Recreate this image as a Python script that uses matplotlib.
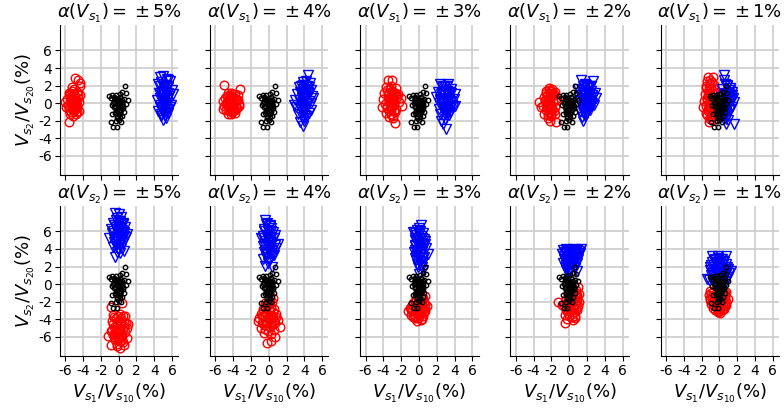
import matplotlib
matplotlib.use("Agg")
import matplotlib.pyplot as plt

plt.rcParams['axes.unicode_minus'] = False

levels = [5, 4, 3, 2, 1]

# nominal case, same in every panel
black_x = [-1.1, -0.9, -0.7, -0.5, -0.3, 0.1, 0.4, 0.7, 0.8, 1.0, 0.6, 0.3, 0.0, -0.4, -0.6, -0.2, 0.2, 0.5, -0.5, -0.1,
           0.3, -0.3, 0.1, 0.4, -0.2, 0.0, -0.9, -0.6, -0.2, 0.3, -0.7, 0.6, -0.8, 0.8, 0.0, -0.4, 0.2, 0.1, -0.1, 0.4,
           -0.4, -0.1, 0.2, -0.5, -0.2, 0.1, 0.4, -0.4, -0.1, 0.2, 0.5, -0.3, 0.0, 0.3, -0.4, -0.1, 0.2, -0.2, 0.1, -0.3]
black_y = [0.8, 0.6, 0.9, 0.7, 0.9, 1.0, 1.3, 2.0, 1.1, 0.4, 0.5, 0.2, 0.4, 0.3, 0.0, -0.1, -0.2, -0.3, -0.5, -0.6,
           -0.8, -1.0, -1.2, -1.5, -1.5, -1.9, -2.2, -2.7, -2.7, -2.1, -1.3, -1.0, -0.2, -0.1, 0.0, 0.5, 0.7, -0.4, 0.2, -0.1,
           0.6, 0.5, 0.4, 0.1, 0.2, 0.1, 0.3, -0.3, -0.4, -0.4, -0.6, -0.8, -0.9, -0.6, -1.1, -1.3, -1.0, -1.7, -1.6, -2.0]

# top row: perturbation of V_s1
red_top_x = [
    [-5.6, -5.3, -5.0, -4.7, -4.4, -5.8, -5.5, -5.2, -4.9, -4.6, -5.7, -5.4, -5.1, -4.8, -4.5, -5.6, -5.3, -5.0, -4.7, -5.9,
     -5.5, -5.1, -4.8, -4.3, -4.6, -4.4, -4.9, -5.2, -6.0, -5.6, -4.5, -5.0,
     -5.5, -5.2, -4.9, -4.6, -5.4, -5.1, -4.8, -5.6, -5.3, -5.0, -4.7, -5.5, -5.2, -4.9, -5.4, -5.1, -4.8, -5.3, -5.0, -4.7],
    [-5.0, -3.2, -4.6, -4.2, -3.8, -3.5, -4.9, -4.4, -4.0, -3.6, -5.2, -4.7, -4.3, -3.9, -3.4, -5.0, -4.5, -4.1, -3.7, -3.3,
     -4.8, -4.4, -4.0, -3.6, -4.6, -4.2, -3.8, -4.3, -5.1, -3.5,
     -4.7, -4.4, -4.1, -3.8, -4.6, -4.3, -4.0, -3.7, -4.8, -4.5, -4.2, -3.9, -4.6, -4.3, -4.0, -4.4, -4.1, -3.8, -4.5, -4.2],
    [-3.5, -3.0, -3.7, -3.2, -2.6, -3.9, -3.4, -2.9, -2.4, -4.0, -3.5, -3.0, -2.5, -2.0, -3.8, -3.3, -2.8, -2.3, -4.2, -3.6,
     -3.1, -2.6, -3.7, -3.2, -2.7, -3.4, -2.9, -2.7, -1.9, -3.0,
     -3.6, -3.3, -3.0, -2.7, -3.5, -3.2, -2.9, -2.6, -3.4, -3.1, -2.8, -3.6, -3.3, -3.0, -3.4, -3.1, -2.8, -3.2, -2.9, -3.0],
    [-2.3, -1.9, -2.6, -2.1, -1.6, -2.8, -2.4, -1.9, -1.5, -3.4, -2.7, -2.2, -1.8, -1.4, -2.9, -2.5, -2.0, -1.6, -2.6, -2.2,
     -1.7, -2.4, -2.0, -1.6, -2.8, -1.5, -2.1, -3.2, -1.8, -2.5,
     -2.6, -2.3, -2.0, -1.7, -2.5, -2.2, -1.9, -2.7, -2.4, -2.1, -1.8, -2.6, -2.3, -2.0, -2.5, -2.2, -1.9, -2.3, -2.0, -2.4],
    [-1.3, -0.7, -1.0, -1.5, -0.6, -1.2, -0.8, -1.6, -1.1, -0.5, -1.4, -0.9, -1.7, -1.2, -0.7, -1.5, -1.0, -0.6, -1.3, -0.8,
     -1.4, -0.9, -1.2, -1.8, -1.1, -0.7, -1.3, -0.5,
     -1.4, -1.1, -0.8, -1.5, -1.2, -0.9, -0.6, -1.3, -1.0, -0.7, -1.4, -1.1, -0.8, -1.2, -0.9, -1.3, -1.0, -0.7, -1.1, -1.5],
]
red_top_y = [
    [1.2, 1.4, 1.0, 1.3, 0.9, 0.5, 0.6, 0.4, 0.3, 0.6, -0.2, -0.1, 0.0, -0.3, 0.1, -0.8, -0.7, -0.9, -0.6, -0.4,
     -1.3, -1.5, -1.2, 1.9, 2.6, 2.3, 2.9, 1.8, 0.1, -2.2, -0.9, -0.1,
     0.9, 0.8, 0.7, 0.9, 0.2, 0.3, 0.4, -0.5, -0.4, -0.3, -0.2, 1.1, 0.5, -0.6, -1.0, -0.8, 0.0, 0.0, 1.6, -1.0],
    [2.1, 1.6, 1.1, 1.2, 1.0, 0.9, 0.6, 0.7, 0.5, 0.4, 0.2, 0.1, 0.3, 0.0, -0.1, -0.3, -0.2, -0.4, -0.5, -0.3,
     -0.8, -0.7, -0.9, -0.6, -1.2, -1.3, -1.1, 0.8, -0.7, 0.3,
     0.8, 0.9, 0.7, 0.6, 0.4, 0.3, 0.2, 0.3, -0.1, 0.0, -0.2, -0.3, -0.5, -0.6, -0.4, -0.9, -1.0, -0.8, 0.6, 0.5],
    [2.6, 2.6, 1.8, 2.0, 1.7, 1.2, 1.1, 1.3, 1.0, 0.5, 0.6, 0.4, 0.7, 0.6, -0.1, 0.0, -0.2, 0.1, -0.4, -0.6,
     -0.5, -0.7, -1.1, -1.3, -1.0, -1.6, -1.7, -2.3, -0.3, 0.2,
     1.5, 1.6, 1.4, 1.2, 0.9, 0.8, 0.9, 1.0, 0.3, 0.2, 0.3, -0.3, -0.4, -0.3, -0.9, -0.8, -0.9, -1.3, -1.5, 0.6],
    [1.7, 1.6, 1.2, 1.1, 1.3, 0.7, 0.6, 0.8, 0.5, 0.1, 0.2, 0.0, 0.1, 0.3, -0.3, -0.4, -0.2, -0.5, -0.8, -1.0,
     -0.9, -1.4, -1.5, -1.3, -1.2, -2.1, -2.0, -0.4, 0.9, -0.1,
     1.4, 1.5, 1.4, 1.0, 0.9, 0.8, 1.0, 0.4, 0.3, 0.4, 0.2, -0.2, -0.1, -0.3, -0.6, -0.7, -0.8, -1.1, -1.2, -1.7],
    [3.0, 3.0, 2.3, 2.0, 2.1, 1.5, 1.4, 1.0, 0.9, 1.1, 0.4, 0.5, 0.2, 0.0, 0.1, -0.3, -0.5, -0.4, -0.9, -1.0,
     -1.4, -1.5, -2.1, -0.5, -1.8, -1.9, 0.8, -0.2,
     2.5, 2.6, 2.4, 1.7, 1.8, 1.7, 1.6, 1.2, 1.1, 0.7, 0.6, 0.8, 0.4, -0.2, -0.1, -0.7, -0.8, -1.2, -1.6, -1.1],
]
blue_top_x = [
    [4.6, 5.0, 5.4, 5.8, 4.4, 4.8, 5.2, 5.6, 6.0, 4.5, 4.9, 5.3, 5.7, 4.3, 4.7, 5.1, 5.5, 5.9, 4.6, 5.0,
     5.4, 5.8, 4.8, 5.2, 5.6, 5.0, 5.3, 4.9, 5.5, 4.4, 6.1, 5.1,
     4.7, 5.0, 5.3, 5.6, 4.6, 4.9, 5.2, 5.5, 4.8, 5.1, 5.4, 4.7, 5.0, 5.3, 5.6, 4.9, 5.2, 5.5, 4.8, 5.1],
    [4.4, 3.8, 4.2, 4.6, 3.4, 3.9, 4.3, 4.8, 3.2, 3.6, 4.0, 4.5, 5.0, 2.9, 3.4, 3.8, 4.2, 4.7, 3.1, 3.5,
     3.9, 4.3, 4.8, 3.3, 3.7, 4.1, 4.5, 3.5, 4.0, 3.8, 2.8, 4.9,
     3.6, 3.9, 4.2, 4.5, 3.5, 3.8, 4.1, 4.4, 3.7, 4.0, 4.3, 3.6, 3.9, 4.2, 4.5, 3.8, 4.1, 3.7, 4.0, 4.3],
    [2.4, 3.3, 2.8, 3.6, 2.1, 2.6, 3.1, 3.6, 4.0, 1.9, 2.4, 2.9, 3.4, 3.9, 2.2, 2.7, 3.2, 3.7, 4.1, 2.3,
     2.8, 3.3, 3.8, 2.4, 2.9, 3.4, 2.5, 2.7, 3.0, 3.5,
     2.6, 2.9, 3.2, 3.5, 2.5, 2.8, 3.1, 3.4, 2.4, 2.7, 3.0, 3.3, 3.6, 2.6, 2.9, 3.2, 3.5, 2.8, 3.1, 2.9],
    [1.3, 2.7, 1.8, 2.3, 1.0, 1.5, 2.0, 2.5, 2.9, 1.2, 1.7, 2.2, 2.7, 3.0, 1.1, 1.6, 2.1, 2.6, 1.4, 1.9,
     2.4, 1.5, 2.0, 1.6, 1.8, 2.3, 1.2, 2.8, 2.0, 1.4,
     1.6, 1.9, 2.2, 2.5, 1.4, 1.7, 2.0, 2.3, 2.6, 1.5, 1.8, 2.1, 2.4, 1.6, 1.9, 2.2, 1.7, 2.0, 1.8, 2.5],
    [0.5, 0.5, 0.9, 0.3, 1.2, 0.6, 1.0, 1.4, 0.2, 0.7, 1.1, 1.5, 0.4, 0.8, 1.3, 1.6, 0.1, 0.6, 1.0, 1.4,
     0.3, 0.8, 1.2, 0.5, 0.9, 0.7, 1.6, 1.0, 0.4, 1.3,
     0.6, 0.9, 1.2, 0.5, 0.8, 1.1, 1.4, 0.4, 0.7, 1.0, 1.3, 0.5, 0.8, 1.1, 0.6, 0.9, 1.2, 0.7, 1.0, 0.8],
]
blue_top_y = [
    [3.0, 3.1, 2.8, 2.5, 2.2, 2.4, 2.0, 1.8, 1.5, 1.2, 1.4, 1.0, 0.8, 0.4, 0.6, 0.2, 0.0, -0.2, -0.4, -0.6,
     -0.8, -0.5, -1.2, -1.4, -1.1, -1.9, -1.7, 0.9, 2.6, -0.9, 1.0, -0.3,
     2.0, 1.9, 2.1, 2.0, 1.1, 1.2, 1.3, 1.1, 0.3, 0.5, 0.4, -0.2, -0.1, -0.3, 0.6, -0.9, -1.0, -0.7, -1.5, 1.7],
    [3.2, 2.4, 2.5, 2.3, 1.8, 1.6, 1.9, 1.5, 1.0, 1.2, 0.9, 1.1, 0.6, 0.3, 0.4, 0.2, 0.5, 0.0, -0.5, -0.4,
     -0.6, -0.3, -0.8, -1.2, -1.0, -1.4, -1.1, -2.1, -2.0, -2.6, -0.2, 0.8,
     2.0, 2.1, 2.0, 1.8, 1.3, 1.4, 1.2, 1.3, 0.6, 0.7, 0.8, -0.1, 0.0, -0.1, 0.2, -0.7, -0.8, -1.6, -1.7, -1.5],
    [2.2, 2.2, 1.8, 1.6, 1.3, 1.2, 1.4, 1.1, 1.0, 0.7, 0.5, 0.6, 0.4, 0.5, 0.0, -0.1, 0.1, -0.2, -0.3, -0.7,
     -0.6, -0.8, -0.5, -1.3, -1.2, -1.4, -2.0, -2.4, -3.0, -1.0,
     1.9, 2.0, 1.9, 1.3, 1.0, 0.9, 1.0, 0.8, 0.3, 0.2, 0.3, 0.1, 0.2, -0.4, -0.5, -0.4, -0.6, -1.0, -1.1, -1.8],
    [2.6, 2.5, 2.2, 2.0, 1.6, 1.5, 1.7, 1.4, 1.2, 0.9, 0.8, 1.0, 0.7, 0.6, 0.2, 0.1, 0.3, 0.0, -0.4, -0.5,
     -0.3, -1.0, -1.1, -2.0, -1.5, -0.8, -0.9, -0.2, 0.5, -1.6,
     2.0, 2.1, 1.8, 1.9, 1.3, 1.2, 1.3, 1.1, 0.9, 0.5, 0.4, 0.6, 0.3, -0.2, -0.1, -0.3, -0.7, -0.6, -1.3, 0.0],
    [3.2, 2.6, 1.9, 1.6, 1.7, 1.2, 1.1, 1.3, 0.7, 0.6, 0.8, 0.6, 0.2, 0.0, 0.3, 0.1, -0.3, -0.4, -0.2, -0.5,
     -0.9, -1.0, -0.8, -1.4, -1.5, -2.4, -2.4, -1.9, -0.6, 0.5,
     2.2, 2.1, 1.5, 1.0, 0.9, 1.0, 0.9, 0.4, 0.3, 0.5, 0.2, -0.2, -0.1, -0.2, -0.7, -0.6, -0.7, -1.2, -1.3, -1.8],
]

# bottom row: perturbation of V_s2
red_bot_x = [
    [-0.9, 0.4, -0.6, 0.1, -0.3, 0.5, -0.8, -0.2, 0.3, 0.8, 1.1, -0.5, 0.0, 0.6, -0.9, -0.3, 0.2, 0.7, -1.2, -0.6,
     -0.1, 0.4, 0.9, -0.4, 0.1, 0.5, -0.9, 0.2, 0.6, -0.2,
     -0.5, -0.1, 0.3, 0.7, -0.6, -0.2, 0.2, 0.6, -0.7, -0.3, 0.1, 0.5, 0.9, -0.5, -0.1, 0.3, -0.4, 0.0, 0.4, -0.2],
    [0.5, 0.1, -0.3, 0.3, -0.6, 0.0, 0.6, -0.9, -0.3, 0.2, 0.8, -1.1, -0.6, -0.1, 0.4, 1.0, -1.25, -0.8, -0.3, 0.2,
     0.7, 1.25, -0.9, -0.4, 0.1, 0.6, -0.5, 0.2, 0.75, -0.2, 0.25,
     -0.4, 0.0, 0.4, -0.7, -0.3, 0.1, 0.5, -0.8, -0.4, 0.0, 0.4, 0.8, -0.6, -0.2, 0.2, 0.6, -0.4, 0.0, 0.4, -0.1],
    [0.7, 0.3, -0.3, 0.2, 0.6, -0.7, -0.2, 0.3, 0.9, -1.0, -0.5, 0.0, 0.5, -1.2, -0.8, -0.3, 0.2, 0.7, -0.9, -0.4,
     0.1, 0.5, -0.5, -0.1, -0.25, 0.3, -0.7,
     -0.4, 0.0, 0.4, -0.8, -0.5, -0.1, 0.3, 0.7, -0.9, -0.5, -0.1, 0.3, 0.7, -0.6, -0.2, 0.2, 0.6, -0.4, 0.0, 0.2],
    [1.0, 0.8, 1.1, 0.6, 0.9, 0.3, 0.7, 1.1, -0.2, 0.2, 0.6, 1.0, -1.2, -0.6, -0.1, 0.4, 0.8, -0.4, 0.1, 0.5,
     0.9, -0.5, 0.0, 0.45, -0.5, -0.2, 0.3, 0.7,
     0.5, 0.8, 0.3, 0.6, 0.9, -0.3, 0.1, 0.5, 0.9, -0.8, -0.4, 0.0, 0.4, 0.8, -0.3, 0.1, 0.5, -0.1, 0.3, 0.6],
    [-1.1, -0.7, 0.8, -1.2, -0.8, 0.6, 1.0, -1.0, -0.5, 0.3, 0.7, -0.9, -0.4, 0.0, 0.4, 0.8, -0.7, -0.2, 0.2, 0.6,
     -0.5, 0.0, 0.4, -0.2, 0.1, 0.3,
     -0.9, -0.5, -0.1, 0.3, 0.6, -1.0, -0.6, -0.2, 0.2, 0.6, -0.8, -0.4, 0.0, 0.4, 0.8, -0.6, -0.2, 0.2, 0.5, 0.0],
]
red_bot_y = [
    [-2.6, -2.2, -3.5, -3.4, -3.9, -3.7, -4.2, -4.4, -4.3, -4.5, -4.6, -4.9, -5.0, -4.8, -5.3, -5.4, -5.2, -5.5, -5.9, -5.8,
     -6.0, -5.9, -6.2, -6.4, -6.5, -6.6, -6.9, -7.25, -7.0, -6.8,
     -3.8, -3.6, -3.9, -3.7, -4.6, -4.7, -4.5, -4.3, -5.2, -5.1, -5.4, -5.1, -5.0, -5.7, -5.6, -5.8, -6.2, -6.3, -6.4, -7.1],
    [-1.6, -2.0, -2.4, -2.6, -2.9, -3.0, -2.8, -3.4, -3.3, -3.5, -3.4, -3.9, -3.8, -4.0, -3.9, -4.1, -4.2, -4.5, -4.4, -4.6,
     -4.5, -4.9, -5.0, -5.1, -4.9, -5.2, -5.6, -5.7, -6.0, -6.75, -6.5,
     -2.2, -2.3, -2.1, -3.1, -3.2, -3.1, -3.2, -3.7, -3.6, -3.7, -3.6, -3.8, -4.3, -4.2, -4.3, -4.1, -4.7, -4.8, -4.7, -5.4],
    [-1.35, -1.5, -1.7, -1.9, -2.0, -2.2, -2.3, -2.4, -2.55, -2.7, -2.6, -2.8, -2.9, -3.05, -3.1, -3.2, -3.3, -3.1, -3.5, -3.6,
     -3.5, -3.6, -3.9, -3.9, -4.2, -4.0, -3.8,
     -1.9, -1.8, -1.6, -2.4, -2.5, -2.4, -2.2, -2.3, -2.9, -3.0, -3.0, -2.8, -2.7, -3.4, -3.4, -3.3, -3.2, -3.8, -3.7, -4.1],
    [-0.3, -0.7, -1.1, -1.3, -1.6, -1.8, -1.9, -2.1, -2.0, -2.2, -2.3, -2.5, -2.1, -2.4, -2.6, -2.7, -2.9, -3.0, -3.1, -3.2,
     -3.0, -3.5, -3.6, -4.1, -4.5, -4.0, -3.8, -3.6,
     -0.8, -1.0, -1.4, -1.5, -1.3, -1.7, -1.6, -1.7, -1.9, -2.4, -2.3, -2.4, -2.5, -2.3, -2.9, -2.8, -2.7, -3.3, -3.4, -3.9],
    [-0.75, -0.9, -0.9, -1.3, -1.4, -1.3, -1.7, -1.8, -1.9, -1.8, -2.0, -2.3, -2.4, -2.2, -2.3, -2.1, -2.7, -2.8, -2.6, -2.5,
     -3.0, -3.1, -2.9, -3.2, -3.25, -3.0,
     -1.0, -1.1, -1.2, -1.1, -1.0, -1.6, -1.5, -1.6, -1.4, -1.5, -2.0, -2.1, -1.9, -2.0, -2.4, -2.5, -2.6, -2.4, -2.8, -2.9],
]
blue_bot_x = [
    [-0.4, 0.0, -0.2, 0.3, -0.6, 0.2, 0.5, -0.9, -0.3, 0.1, 0.4, 0.9, -0.7, -0.2, 0.2, 0.6, -1.1, -0.5, 0.0, 0.4,
     0.8, -0.3, 0.1, 0.5, -0.6, -0.1, 0.3, 0.6, -0.4, 0.2,
     -0.3, 0.1, 0.5, -0.5, -0.1, 0.3, 0.7, -0.6, -0.2, 0.2, 0.6, -0.4, 0.0, 0.4, -0.5, -0.1, 0.3, -0.3, 0.1, -0.2],
    [-0.4, -0.2, 0.1, -0.5, 0.3, -0.1, 0.5, -0.7, -0.2, 0.2, 0.7, -0.9, -0.4, 0.0, 0.4, 1.0, -0.6, -0.1, 0.3, 0.8,
     -0.5, 0.0, 0.4, -0.3, 0.2, 0.6, -0.4, 0.4, 0.0, -0.6,
     -0.3, 0.1, -0.5, -0.1, 0.3, -0.6, -0.2, 0.2, 0.6, -0.5, -0.1, 0.3, 0.7, -0.4, 0.0, 0.4, -0.3, 0.1, 0.5, -0.1],
    [0.2, -0.2, 0.1, -0.7, -0.3, 0.2, 0.6, -0.5, -0.1, 0.3, 0.7, -0.4, 0.0, 0.4, 1.0, -0.6, -0.2, 0.2, 0.6, -0.3,
     0.1, 0.5, -0.1, 0.3, 0.0, -0.5, 0.4, 0.1,
     0.0, -0.4, 0.0, 0.4, -0.5, -0.1, 0.3, 0.7, -0.4, 0.0, 0.4, 0.8, -0.5, -0.1, 0.3, -0.3, 0.1, 0.5, -0.2, 0.2],
    [-0.7, -0.3, 0.1, 0.5, 0.9, 1.3, -0.8, -0.4, 0.0, 0.4, 0.8, 1.2, -0.6, -0.2, 0.2, 0.6, 1.0, -0.7, -0.3, 0.1,
     0.5, 0.9, -0.5, -0.1, 0.3, 0.7, -0.3, 0.1, 0.85, -0.1,
     -0.5, -0.1, 0.3, 0.7, 1.1, -0.6, -0.2, 0.2, 0.6, 1.0, -0.5, -0.1, 0.3, 0.7, -0.4, 0.0, 0.4, -0.2, 0.2, 0.5],
    [-0.85, -0.1, 0.7, -0.6, 0.2, 0.5, -0.9, -0.4, 0.0, 0.4, 0.9, 1.3, -1.1, -0.6, -0.2, 0.3, 0.7, 1.1, -1.4, -0.9,
     -0.4, 0.1, 0.5, 1.0, -1.2, -0.7, -0.2, 0.3, 0.8, -0.5,
     -0.5, -0.1, 0.3, -0.8, -0.4, 0.0, 0.4, 0.8, -1.0, -0.6, -0.2, 0.2, 0.6, 1.0, -0.8, -0.4, 0.0, 0.4, 0.8, 0.0],
]
blue_bot_y = [
    [8.1, 8.0, 7.5, 7.6, 7.0, 7.1, 6.8, 6.3, 6.5, 6.4, 6.2, 5.7, 5.8, 5.9, 5.6, 5.5, 5.2, 5.1, 5.3, 5.0,
     5.4, 4.6, 4.5, 4.7, 4.2, 4.0, 4.1, 3.8, 3.1, 3.5,
     7.3, 7.2, 7.0, 6.7, 6.6, 6.8, 6.5, 6.0, 6.1, 6.0, 5.9, 5.4, 5.5, 5.3, 4.8, 4.9, 4.8, 4.3, 4.4, 3.6],
    [7.35, 7.0, 6.6, 6.3, 6.4, 6.0, 5.9, 5.5, 5.6, 5.4, 5.6, 5.2, 4.9, 5.0, 4.8, 4.6, 4.3, 4.2, 4.4, 4.1,
     3.7, 3.6, 3.8, 3.1, 3.2, 3.3, 2.1, 1.9, 2.6, 2.8,
     6.8, 6.7, 6.1, 6.2, 6.0, 5.3, 5.4, 5.3, 5.2, 4.6, 4.5, 4.7, 4.4, 3.9, 4.0, 3.9, 3.4, 3.5, 3.3, 2.4],
    [6.75, 6.2, 6.0, 5.9, 5.6, 5.5, 5.1, 5.0, 4.9, 4.7, 4.6, 4.3, 4.2, 4.0, 3.4, 3.6, 3.5, 3.3, 3.1, 2.7,
     2.6, 2.5, 2.0, 1.9, 1.2, 3.0, 1.6, 4.4,
     6.4, 5.8, 5.7, 5.8, 5.2, 5.3, 5.2, 4.9, 4.5, 4.6, 4.4, 4.1, 3.9, 3.8, 3.8, 3.2, 3.1, 3.0, 2.3, 2.2],
    [3.9, 4.0, 3.9, 4.0, 3.9, 4.0, 3.4, 3.5, 3.3, 3.6, 3.4, 3.5, 2.9, 3.0, 2.8, 3.0, 2.9, 2.4, 2.5, 2.3,
     2.5, 2.4, 2.0, 1.9, 2.1, 1.8, 1.6, 1.5, 1.5, 1.25,
     3.7, 3.8, 3.7, 3.7, 3.8, 3.2, 3.1, 3.2, 3.1, 3.2, 2.7, 2.6, 2.6, 2.7, 2.2, 2.2, 2.3, 1.8, 1.7, 2.0],
    [3.2, 3.2, 3.2, 2.7, 2.8, 2.6, 2.2, 2.3, 2.1, 2.3, 2.0, 1.45, 1.6, 1.7, 1.5, 1.8, 1.6, 1.3, 0.6, 1.0,
     1.1, 0.9, 1.0, 0.8, 0.5, 0.4, 0.6, 0.4, 0.3, 0.1,
     2.9, 3.0, 2.9, 2.5, 2.5, 2.4, 2.5, 2.3, 1.9, 1.9, 1.8, 2.0, 1.9, 1.7, 1.3, 1.2, 1.3, 1.2, 1.1, 0.7],
]

ticks = [-6, -4, -2, 0, 2, 4, 6]

fig, axes = plt.subplots(2, 5, figsize=(7.84, 4.11), dpi=100, sharex=True, sharey=True)
fig.subplots_adjust(left=0.0765, right=0.9935, bottom=0.134, top=0.939, wspace=0.27, hspace=0.207)

rows = [(red_top_x, red_top_y, blue_top_x, blue_top_y, r'$\alpha(V_{s_1}) =\:\pm\,%d\%%$'),
        (red_bot_x, red_bot_y, blue_bot_x, blue_bot_y, r'$\alpha(V_{s_2}) =\:\pm\,%d\%%$')]

for r, (rx, ry, bx, by, fmt) in enumerate(rows):
    for c in range(5):
        ax = axes[r, c]
        ax.set_axisbelow(True)
        ax.grid(True, color='#cccccc', linewidth=1.2)
        ax.plot(rx[c], ry[c], 'o', mfc='none', mec='red', ms=6.2, mew=1.0, ls='none')
        ax.plot(bx[c], by[c], 'v', mfc='none', mec='blue', ms=6.5, mew=1.0, ls='none')
        ax.plot(black_x, black_y, 'o', mfc='none', mec='black', ms=3.2, mew=1.0, ls='none')
        ax.set_title(fmt % levels[c], fontsize=13, pad=3)
        ax.spines['top'].set_visible(False)
        ax.spines['right'].set_visible(False)
        ax.set_xticks(ticks)
        ax.set_yticks(ticks)
        ax.tick_params(labelsize=10, length=3.5, width=0.8, pad=2)
        ax.set_xlim(-6.6, 6.7)
        ax.set_ylim(-8.2, 8.9)

for r in range(2):
    axes[r, 0].set_ylabel(r'$V_{s_2}/V_{s_{20}}(\%)$', fontsize=13, labelpad=1)
for c in range(5):
    axes[1, c].set_xlabel(r'$V_{s_1}/V_{s_{10}}(\%)$', fontsize=13, labelpad=3)

fig.savefig('out.png', dpi=100)
